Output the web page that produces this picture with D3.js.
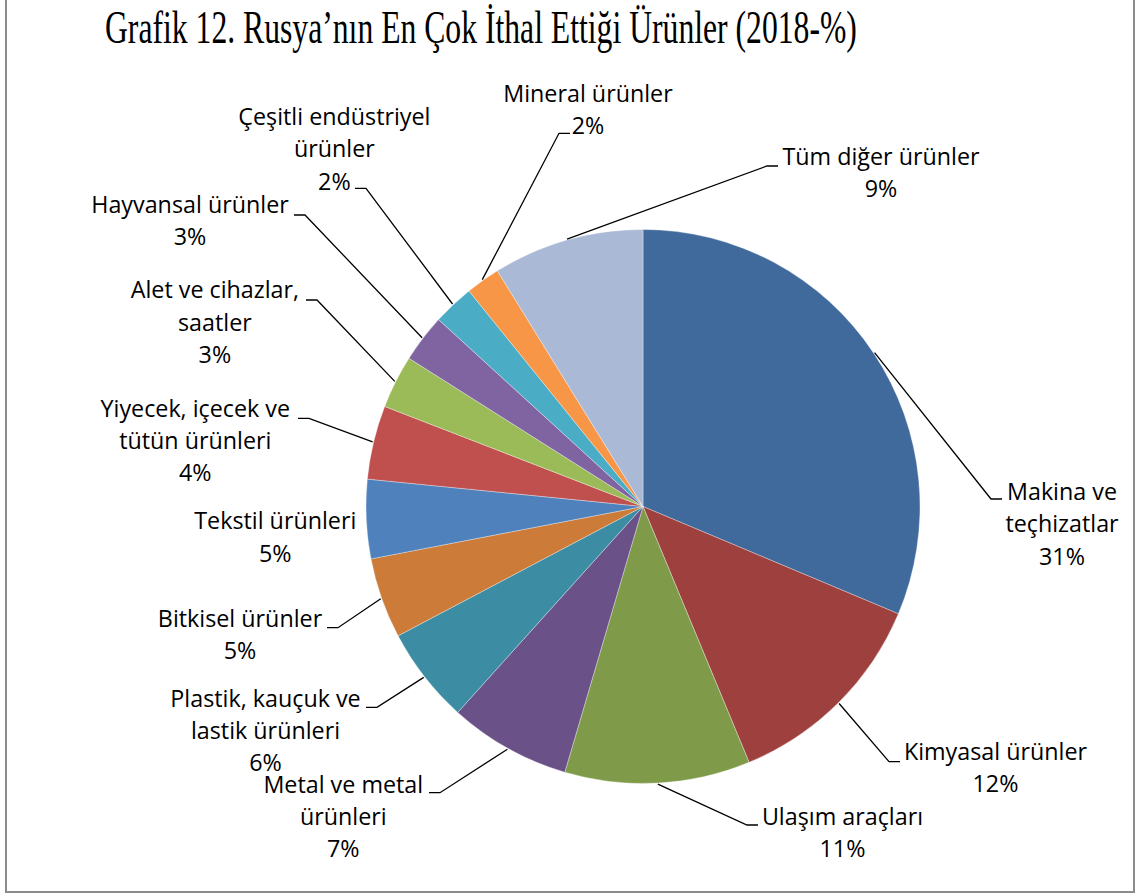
<!DOCTYPE html>
<html>
<head>
<meta charset="utf-8">
<script src="https://cdn.jsdelivr.net/npm/d3@7"></script>
<style>
  html, body { margin: 0; padding: 0; background: #fff; }
  svg { display: block; }
</style>
</head>
<body>
<svg id="chart" width="1136" height="895"></svg>
<script>
// ---- DATA ----
const title = "Grafik 12. Rusya’nın En Çok İthal Ettiği Ürünler (2018-%)";
const categories = [
  "Makina ve\nteçhizatlar",
  "Kimyasal ürünler",
  "Ulaşım araçları",
  "Metal ve metal\nürünleri",
  "Plastik, kauçuk ve\nlastik ürünleri",
  "Bitkisel ürünler",
  "Tekstil ürünleri",
  "Yiyecek, içecek ve\ntütün ürünleri",
  "Alet ve cihazlar,\nsaatler",
  "Hayvansal ürünler",
  "Çeşitli endüstriyel\nürünler",
  "Mineral ürünler",
  "Tüm diğer ürünler"
];
const values = [31.3, 12.4, 10.8, 7.1, 5.6, 4.7, 4.6, 4.3, 3.1, 2.8, 2.4, 2.0, 8.8];
const colors = ["#416A9C", "#9E413E", "#7F9B4A", "#6A5187", "#3C8DA4", "#CC7B38",
                "#4F81BD", "#C0504D", "#9BBB59", "#8064A2", "#4BACC6", "#F79646", "#AAB9D6"];

// ---- LAYOUT (label placement) ----
// cx: text centre, by: first baseline, ax/ay: leader end point, side: leader direction (0 = no leader)
const labelLayout = [
  {cx: 1062,  by: 500,   ax: 1002, ay: 499,   side:  1},
  {cx: 995.5, by: 760,   ax: 900,  ay: 761.7, side:  1},
  {cx: 842.5, by: 825,   ax: 758,  ay: 825,   side:  1},
  {cx: 343.3, by: 792.7, ax: 429,  ay: 792.7, side: -1},
  {cx: 265.5, by: 706.7, ax: 366,  ay: 707.3, side: -1},
  {cx: 240,   by: 626.7, ax: 327,  ay: 627.7, side: -1},
  {cx: 275.3, by: 529.3, ax: 0,    ay: 0,     side:  0},
  {cx: 195.3, by: 416.7, ax: 298,  ay: 418.3, side: -1},
  {cx: 214.9, by: 298.3, ax: 306,  ay: 300,   side: -1},
  {cx: 190,   by: 212.7, ax: 294,  ay: 215,   side: -1},
  {cx: 334.4, by: 125,   ax: 355,  ay: 188.3, side: -1},
  {cx: 588,   by: 101.7, ax: 570,  ay: 133.3, side:  1},
  {cx: 881,   by: 165,   ax: 778,  ay: 166,   side:  1}
];

const W = 1136, H = 895;
const cx = 643, cy = 506.5, R = 277;
const lineGap = 32.3;
const svg = d3.select("#chart");

// frame
svg.append("rect")
  .attr("x", 6).attr("y", -10).attr("width", 1128).attr("height", 902)
  .attr("fill", "#fff").attr("stroke", "#8c8c8c").attr("stroke-width", 2);

// title (condensed horizontally to the reference width)
const titleWidth = 752, titleX = 105, titleY = 43;
const tt = svg.append("text")
  .attr("x", 0).attr("y", 0)
  .attr("font-family", "'Liberation Serif', 'Times New Roman', serif")
  .attr("font-size", 46)
  .attr("fill", "#000")
  .text(title);
const natural = tt.node().getComputedTextLength() || titleWidth;
tt.attr("transform", `translate(${titleX},${titleY}) scale(${titleWidth / natural},1)`);

const total = d3.sum(values);
const pie = d3.pie().sort(null).value(d => d)(values);
const arc = d3.arc().innerRadius(0).outerRadius(R);

const g = svg.append("g").attr("transform", `translate(${cx},${cy})`);
g.selectAll("path.slice")
  .data(pie)
  .join("path")
  .attr("class", "slice")
  .attr("d", arc)
  .attr("fill", (d, i) => colors[i])
  .attr("stroke", "rgba(255,255,255,0.55)")
  .attr("stroke-width", 0.6);

// leader lines
const lead = svg.append("g");
pie.forEach((d, i) => {
  const L = labelLayout[i];
  if (!L.side) return;
  const a = (d.startAngle + d.endAngle) / 2;
  const sx = cx + (R + 1) * Math.sin(a);
  const sy = cy - (R + 1) * Math.cos(a);
  const ex = L.ax - L.side * 11;
  lead.append("polyline")
    .attr("points", `${sx},${sy} ${ex},${L.ay} ${L.ax},${L.ay}`)
    .attr("fill", "none")
    .attr("stroke", "#000")
    .attr("stroke-width", 1.3);
});

// labels
const lab = svg.append("g")
  .attr("font-family", "'Open Sans', 'Noto Sans', sans-serif")
  .attr("font-size", 23.3)
  .attr("fill", "#000")
  .attr("text-anchor", "middle");
pie.forEach((d, i) => {
  const L = labelLayout[i];
  const pct = Math.round(values[i] / total * 100) + "%";
  const lines = categories[i].split("\n").concat([pct]);
  const t = lab.append("text").attr("x", L.cx).attr("y", L.by);
  lines.forEach((s, k) => {
    t.append("tspan").attr("x", L.cx).attr("y", L.by + k * lineGap).text(s);
  });
});
</script>
</body>
</html>
